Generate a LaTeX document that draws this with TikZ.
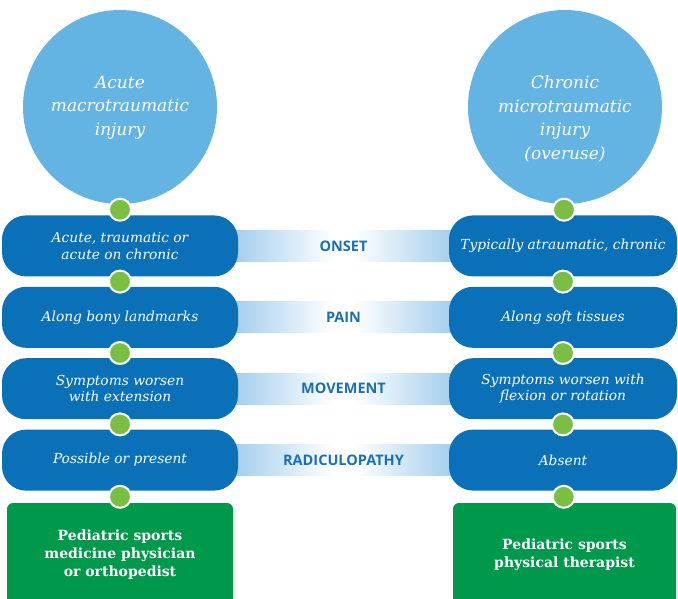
\documentclass[tikz,border=0pt]{standalone}
\usepackage{fontspec}
\setmainfont{DejaVu Serif}
\setsansfont{Open Sans}
\usepackage{tikz}
\usetikzlibrary{positioning,calc,backgrounds}
\definecolor{skyblue}{HTML}{63B3E3}
\definecolor{pillblue}{HTML}{0A71B9}
\definecolor{labelblue}{HTML}{1A6FB7}
\definecolor{bandblue}{HTML}{9DCBEC}
\definecolor{leafgreen}{HTML}{7ABF43}
\definecolor{boxgreen}{HTML}{00984A}
\tikzset{
  injurycirc/.style={
    circle, fill=skyblue, minimum size=194pt, inner sep=0pt
  },
  circtext/.style={
    text=white, align=center, inner sep=0pt,
    font=\fontsize{17}{23.5}\selectfont\itshape
  },
  pillbox/.style={
    rectangle, rounded corners=24pt, fill=pillblue,
    minimum width=#1, minimum height=61pt,
    text=white, align=center, inner sep=0pt,
    font=\fontsize{13.8}{16.5}\selectfont\itshape
  },
  pillbox/.default=236pt,
  dotnode/.style={
    circle, fill=leafgreen, draw=white, line width=2pt,
    minimum size=22pt, inner sep=0pt
  },
  carebox/.style={
    rectangle, rounded corners=6pt, fill=boxgreen,
    minimum width=#1, minimum height=104pt,
    text=white, align=center, inner sep=0pt,
    font=\fontsize{14}{18}\selectfont\bfseries
  },
  carebox/.default=226pt,
  bandlabel/.style={
    text=labelblue, inner sep=0pt,
    font=\sffamily\bfseries\fontsize{14.5}{16}\selectfont
  },
}

\begin{document}
\begin{tikzpicture}[x=1pt, y=-1pt]
\useasboundingbox (0,0) rectangle (678,598);

% two kinds of injury
\node[injurycirc] (cl) at (120,107) {};
\node[injurycirc] (cr) at (565,107) {};
\node[circtext, anchor=north] (cltext) at ([yshift=31.5pt]cl.center) {Acute\\macrotraumatic\\injury};
\node[circtext, anchor=north] (crtext) at ([yshift=31.5pt]cr.center) {Chronic\\microtraumatic\\injury\\(overuse)};

% left column
\node[pillbox, below=11pt of cl] (l1) {Acute, traumatic or\\acute on chronic};
\node[pillbox, below=10pt of l1] (l2) {Along bony landmarks};
\node[pillbox, below=10pt of l2] (l3) {Symptoms worsen\\with extension};
\node[pillbox, below=10pt of l3] (l4) {Possible or present};
\node[carebox, below=12pt of l4] (gl) {Pediatric sports\\medicine physician\\or orthopedist};

% right column
\node[pillbox=228pt, below=11pt of cr, xshift=-2pt] (r1) {Typically atraumatic, chronic};
\node[pillbox=228pt, below=10pt of r1] (r2) {Along soft tissues};
\node[pillbox=228pt, below=10pt of r2] (r3) {Symptoms worsen with\\flexion or rotation};
\node[pillbox=228pt, below=10pt of r3] (r4) {Absent};
\node[carebox=223pt, below=12pt of r4, xshift=1.5pt] (gr) {Pediatric sports\\physical therapist};

% green dots
\node[dotnode] (dl0) at ($(cl.south)!0.5!(l1.north)$) {};
\node[dotnode] (dr0) at ($(cr.south)!0.5!(r1.north)$) {};
\foreach \i [count=\j from 2] in {1,2,3}{
  \node[dotnode] (dl\i) at ($(l\i.south)!0.5!(l\j.north)$) {};
  \node[dotnode] (dr\i) at ($(r\i.south)!0.5!(r\j.north)$) {};
}
\node[dotnode] (dl4) at ($(l4.south)!0.5!(gl.north)$) {};
\node[dotnode] (dr4) at ($(r4.south)!0.5!(gr.north)$) {};

% bands with the criteria
\foreach \i/\lab in {1/ONSET,2/PAIN,3/MOVEMENT,4/RADICULOPATHY}{
  \node[bandlabel] (b\i) at ($(l\i.east)!0.5!(r\i.west)$) {\lab};
}
\begin{scope}[on background layer]
\foreach \i in {1,...,4}{
  \path[left color=bandblue, right color=white]
    ([shift={(-10pt,15.5pt)}]l\i.east) rectangle ([yshift=-15.5pt]$(l\i.east)!0.45!(r\i.west)$);
  \path[left color=white, right color=bandblue]
    ([yshift=15.5pt]$(l\i.east)!0.55!(r\i.west)$) rectangle ([shift={(10pt,-15.5pt)}]r\i.west);
}
\end{scope}
\end{tikzpicture}
\end{document}
